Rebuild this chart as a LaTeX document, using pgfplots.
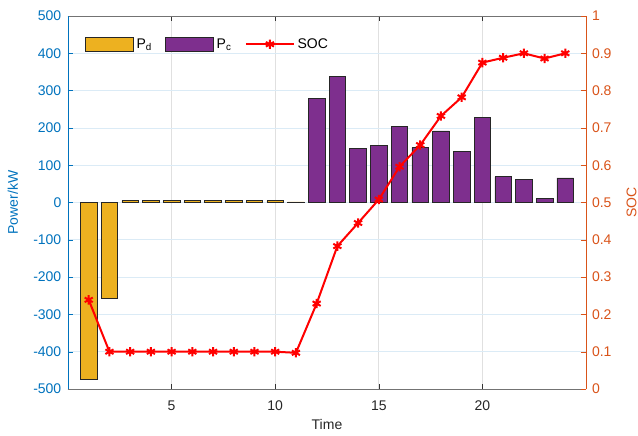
\documentclass[border=0pt]{standalone}
\usepackage{pgfplots}
\pgfplotsset{compat=1.18}
\usepackage{fontspec}
\setmainfont{Liberation Sans}
\definecolor{lblue}{RGB}{0,114,189}
\definecolor{lorange}{RGB}{217,83,25}
\definecolor{byellow}{RGB}{237,177,32}
\definecolor{bpurple}{RGB}{126,47,142}
\begin{document}
\begin{tikzpicture}
\path[use as bounding box] (-51pt,-34.5pt) rectangle (427.5pt,291.75pt);
\begin{axis}[
  scale only axis, width=388.5pt, height=279.75pt,
  xmin=0, xmax=25, ymin=-500, ymax=500,
  axis y line*=left, axis x line*=box,
  xtick={5,10,15,20},
  ytick={-500,-400,-300,-200,-100,0,100,200,300,400,500},
  tick align=inside, major tick length=3.75pt,
  /pgf/number format/assume math mode=true,
  tick label style={font=\fontsize{10.5}{12}\selectfont},
  label style={font=\fontsize{10.5}{12}\selectfont},
  x axis line style={black!55, line width=0.6pt},
  y axis line style={lblue, line width=0.6pt},
  xtick style={black!80},
  ytick style={lblue},
  yticklabel style={lblue, xshift=-1.5pt},
  xticklabel style={black!85, yshift=-5pt},
  grid=major,
  x grid style={black!12, line width=0.5pt},
  y grid style={lblue!14, line width=0.5pt},
  xlabel={Time}, ylabel={Power/kW},
  ylabel style={lblue, yshift=4.5pt},
  xlabel style={black!85, yshift=0pt},
  legend columns=3,
  legend style={draw=none, fill=none, at={(axis description cs:0.025,0.955)}, anchor=north west,
    font=\fontsize{10.5}{12}\selectfont,
    /tikz/every even column/.append style={column sep=8pt}},
]
\addplot[ybar, bar width=0.8, bar shift=0pt, fill=byellow, draw=black!85, line width=0.5pt,
  legend image code/.code={\draw[fill=byellow, draw=black!85, line width=0.5pt] (0pt,-5.25pt) rectangle (36pt,5.25pt);}]
  coordinates {(1,-475) (2,-257) (3,6) (4,6) (5,6) (6,6) (7,6) (8,6) (9,6) (10,6) (11,1.5)};
\addlegendentry{P\textsubscript{d}}
\addplot[ybar, bar width=0.8, bar shift=0pt, fill=bpurple, draw=black!85, line width=0.5pt,
  legend image code/.code={\draw[fill=bpurple, draw=black!85, line width=0.5pt] (0pt,-5.25pt) rectangle (36pt,5.25pt);}]
  coordinates {(12,280) (13,338) (14,146) (15,152) (16,205) (17,147) (18,192) (19,137) (20,228) (21,69) (22,62) (23,10) (24,66)};
\addlegendentry{P\textsubscript{c}}
\addlegendimage{legend image code/.code={\draw[red, line width=1.5pt, mark=asterisk, mark size=3.5pt, mark repeat=2, mark phase=2] plot coordinates {(0pt,0pt) (18pt,0pt) (36pt,0pt)};}}
\addlegendentry{SOC}
\end{axis}
\begin{axis}[
  scale only axis, width=388.5pt, height=279.75pt,
  xmin=0, xmax=25, ymin=0, ymax=1,
  axis y line*=right, axis x line=none,
  ytick={0,0.1,0.2,0.3,0.4,0.5,0.6,0.7,0.8,0.9,1},
  yticklabels={0,0.1,0.2,0.3,0.4,0.5,0.6,0.7,0.8,0.9,1},
  tick align=inside, major tick length=3.75pt,
  tick label style={font=\fontsize{10.5}{12}\selectfont},
  label style={font=\fontsize{10.5}{12}\selectfont},
  y axis line style={lorange, line width=0.6pt},
  ytick style={lorange},
  yticklabel style={lorange, xshift=1pt},
  ylabel={SOC}, ylabel style={lorange, yshift=-4.5pt},
]
\addplot[red, line width=1.5pt, mark=asterisk, mark size=3.5pt]
  coordinates {(1,0.239) (2,0.1) (3,0.1) (4,0.1) (5,0.1) (6,0.1) (7,0.1) (8,0.1) (9,0.1) (10,0.1) (11,0.097)
  (12,0.229) (13,0.383) (14,0.445) (15,0.508) (16,0.596) (17,0.654) (18,0.732) (19,0.782) (20,0.875)
  (21,0.888) (22,0.9) (23,0.886) (24,0.9)};
\end{axis}
\end{tikzpicture}
\end{document}
